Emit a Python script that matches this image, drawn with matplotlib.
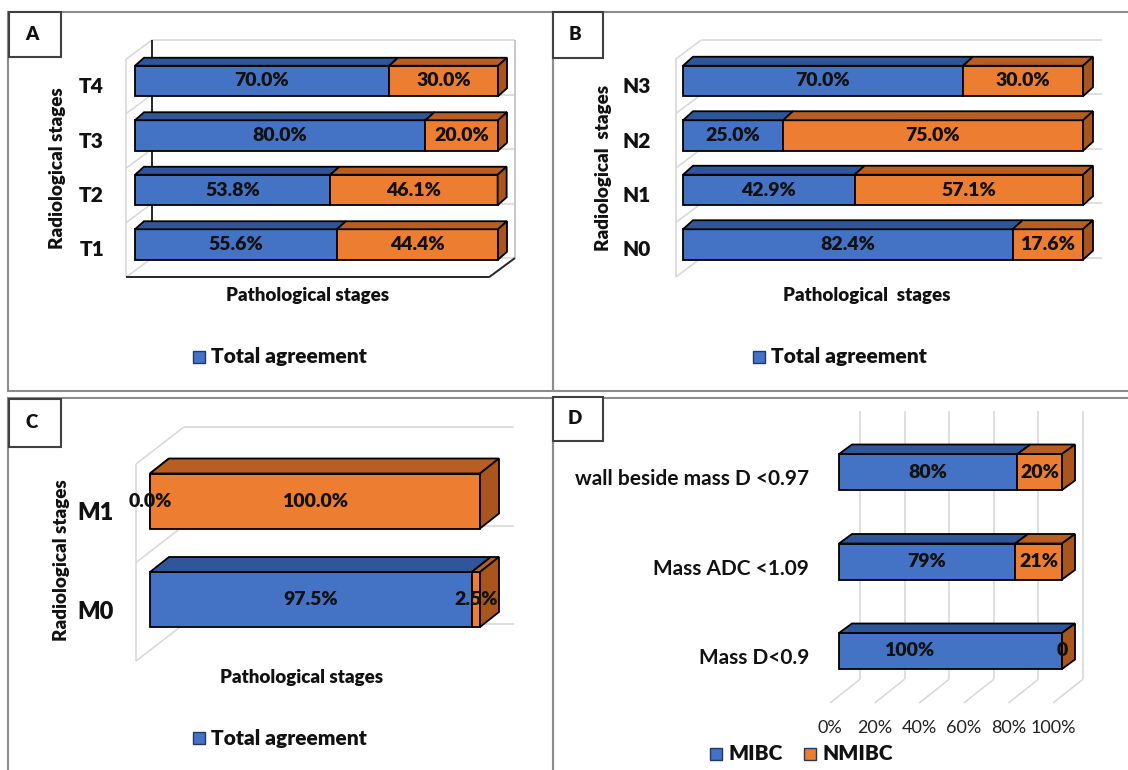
import numpy as np
import matplotlib
matplotlib.use("Agg")
import matplotlib.pyplot as plt
from matplotlib.patches import Polygon, Rectangle

# ---------------- data ----------------
t_stages = ["T1", "T2", "T3", "T4"]
t_agree = [55.6, 53.8, 80.0, 70.0]
t_other = [44.4, 46.1, 20.0, 30.0]

n_stages = ["N0", "N1", "N2", "N3"]
n_agree = [82.4, 42.9, 25.0, 70.0]
n_other = [17.6, 57.1, 75.0, 30.0]

m_stages = ["M0", "M1"]
m_agree = [97.5, 0.0]
m_other = [2.5, 100.0]

d_params = ["Mass D<0.9", "Mass ADC <1.09", "wall beside mass D <0.97"]
d_mibc = [100, 79, 80]
d_nmibc = [0, 21, 20]
d_ticks = [0, 20, 40, 60, 80, 100]

# ---------------- style ----------------
W, H = 1128, 770
plt.rcParams["font.family"] = ["Lato", "DejaVu Sans"]
BLUE, BLUE_TOP = "#4472C4", "#30569A"
ORANGE, ORANGE_TOP, ORANGE_SIDE = "#ED7D31", "#B95E22", "#A8561D"
WALL = "#D9D9D9"
TXT = "#111111"
HEAVY = "heavy"
EDGE_LW = 1.3

fig = plt.figure(figsize=(W / 100, H / 100), dpi=100)


def fx(x):
    return x / W


def fy(y):
    return 1 - y / H


def make_axes(x0, x100, yc_bottom, spacing, n):
    top = yc_bottom - spacing * (n - 1) - spacing / 2
    bot = yc_bottom + spacing / 2
    ax = fig.add_axes([fx(x0), fy(bot), (x100 - x0) / W, (bot - top) / H])
    ax.set_xlim(0, 100)
    ax.set_ylim(-0.5, n - 0.5)
    ax.axis("off")
    ux = 100 / (x100 - x0)
    uy = 1 / spacing
    return ax, ux, uy


def draw_bars(ax, ux, uy, series, fronts, tops, side, bar_h, depth, fmts,
              fs=14, label_shift=None):
    n = len(series[0])
    ddx, ddy = depth[0] * ux, depth[1] * uy
    y = np.arange(n)
    left = np.zeros(n)
    for k, vals in enumerate(series):
        vals = np.asarray(vals, dtype=float)
        ax.barh(y, vals, left=left, height=bar_h, color=fronts[k],
                edgecolor="black", linewidth=EDGE_LW, zorder=5)
        for i in range(n):
            l, r = left[i], left[i] + vals[i]
            t = y[i] + bar_h / 2
            ax.add_patch(Polygon([(l, t), (r, t), (r + ddx, t + ddy), (l + ddx, t + ddy)],
                                 closed=True, fc=tops[k], ec="black",
                                 lw=EDGE_LW, zorder=5))
            cx = l + vals[i] / 2
            if label_shift is not None and (k, i) in label_shift:
                cx += label_shift[(k, i)]
            ax.text(cx, y[i], fmts[k](vals[i]), ha="center", va="center",
                    fontsize=fs, fontweight=HEAVY, color=TXT, zorder=10)
        left = left + vals
    for i in range(n):
        r = left[i]
        b, t = y[i] - bar_h / 2, y[i] + bar_h / 2
        ax.add_patch(Polygon([(r, b), (r + ddx, b + ddy), (r + ddx, t + ddy), (r, t)],
                             closed=True, fc=side, ec="black", lw=EDGE_LW,
                             zorder=5))
    for a in ax.patches:
        a.set_clip_on(False)


def line(ax, p, q, color=WALL, lw=1.2, z=1):
    ax.plot([p[0], q[0]], [p[1], q[1]], color=color, lw=lw, zorder=z,
            clip_on=False, solid_capstyle="butt")


def wall_box(ax, ux, uy, n, front, back, left_wall=True, back_axis=False,
             right_wall=False, floor=False, xgrid=None):
    def P(x, yy, off):
        return (x + off[0] * ux, yy + off[1] * uy)
    bounds = np.arange(n + 1) - 0.5
    if left_wall:
        line(ax, P(0, -0.5, front), P(0, n - 0.5, front))
        for b in bounds:
            line(ax, P(0, b, front), P(0, b, back))
        for b in bounds:
            line(ax, P(0, b, back), P(100, b, back))
    if back_axis:
        line(ax, P(0, -0.5, back), P(0, n - 0.5, back), color="#262626", lw=1.4, z=2)
    if right_wall:
        line(ax, P(100, -0.5, back), P(100, n - 0.5, back), color="#BFBFBF")
    if floor:
        line(ax, P(0, -0.5, front), P(100, -0.5, front), color="#262626", lw=1.4, z=2)
        line(ax, P(100, -0.5, front), P(100, -0.5, back), color="#262626", lw=1.4, z=2)
    if xgrid is not None:
        for xv in xgrid:
            line(ax, P(xv, -0.5, back), P(xv, n - 0.5, back))
            line(ax, P(xv, -0.5, back), P(xv, -0.5, front))


def cat_labels(ax, ux, uy, labels, front, pad, fs=15, weight=HEAVY):
    for i, lab in enumerate(labels):
        ax.text(front[0] * ux - pad * ux, i + front[1] * uy, lab, ha="right",
                va="center", fontsize=fs, fontweight=weight, color=TXT)


def legend_item(x, y, color, text, fs=15):
    s = 12
    fig.add_artist(Rectangle((fx(x), fy(y + s / 2)), s / W, s / H,
                             transform=fig.transFigure, fc=color,
                             ec="#1F3864", lw=1.0))
    fig.text(fx(x + s + 6), fy(y), text, ha="left", va="center",
             fontsize=fs, fontweight=HEAVY, color=TXT)


def axis_titles(vx, vy, vtext, hx, hy, htext):
    fig.text(fx(vx), fy(vy), vtext, rotation=90, ha="center", va="center",
             fontsize=13.5, fontweight=HEAVY, color=TXT)
    fig.text(fx(hx), fy(hy), htext, ha="center", va="center",
             fontsize=13.5, fontweight=HEAVY, color=TXT)


def frame(x0, y0, x1, y1, color="#8C8C8C", lw=1.5):
    fig.add_artist(Rectangle((fx(x0), fy(y1)), (x1 - x0) / W, (y1 - y0) / H,
                             transform=fig.transFigure, fill=False,
                             ec=color, lw=lw))


def letter_box(x0, y0, x1, y1, letter):
    fig.add_artist(Rectangle((fx(x0), fy(y1)), (x1 - x0) / W, (y1 - y0) / H,
                             transform=fig.transFigure, fc="white",
                             ec="#404040", lw=1.5, zorder=20))
    fig.text(fx((x0 + x1) / 2 - 3), fy((y0 + y1) / 2), letter, ha="center",
             va="center", fontsize=13.5, fontweight=HEAVY, color=TXT,
             zorder=21)


def pct1(v):
    return f"{v:.1f}%"


def pct0(v):
    return f"{v:.0f}%" if v > 0 else "0"


# ---------------- panel frames ----------------
frame(8, 12, 553, 391)
frame(553, 12, 1140, 391)
frame(8, 398, 553, 790)
frame(553, 398, 1140, 790)

# ---------------- panel A ----------------
axA, uxA, uyA = make_axes(135, 498, 244.5, 54.5, 4)
frontA, backA = (-9, -5.5), (17, 13.75)
wall_box(axA, uxA, uyA, 4, frontA, backA, back_axis=True, right_wall=True, floor=True)
draw_bars(axA, uxA, uyA, [t_agree, t_other], [BLUE, ORANGE], [BLUE_TOP, ORANGE_TOP],
          ORANGE_SIDE, 30.5 / 54.5, (9, 8), [pct1, pct1])
cat_labels(axA, uxA, uyA, t_stages, frontA, 22)
axis_titles(58, 168, "Radiological stages", 308, 296, "Pathological stages")
legend_item(193, 357, BLUE, "Total agreement")
letter_box(9, 12, 61, 57, "A")

# ---------------- panel B ----------------
axB, uxB, uyB = make_axes(683, 1083, 244.5, 54.5, 4)
frontB, backB = (-7.5, -5.5), (18.5, 14)
wall_box(axB, uxB, uyB, 4, frontB, backB)
draw_bars(axB, uxB, uyB, [n_agree, n_other], [BLUE, ORANGE], [BLUE_TOP, ORANGE_TOP],
          ORANGE_SIDE, 30.5 / 54.5, (10, 9), [pct1, pct1])
cat_labels(axB, uxB, uyB, n_stages, frontB, 25)
axis_titles(603, 168, "Radiological  stages", 867, 296, "Pathological  stages")
legend_item(753, 357, BLUE, "Total agreement")
letter_box(553, 12, 603, 58, "B")

# ---------------- panel C ----------------
axC, uxC, uyC = make_axes(150, 480, 599.5, 98.5, 2)
frontC, backC = (-14, -12.25), (34, 24.75)
wall_box(axC, uxC, uyC, 2, frontC, backC)
draw_bars(axC, uxC, uyC, [m_agree, m_other], [BLUE, ORANGE], [BLUE_TOP, ORANGE_TOP],
          ORANGE_SIDE, 55 / 98.5, (19, 15), [pct1, pct1])
cat_labels(axC, uxC, uyC, m_stages, frontC, 22, fs=17)
axis_titles(61, 560, "Radiological stages", 302, 677, "Pathological stages")
legend_item(193, 738, BLUE, "Total agreement")
letter_box(9, 399, 61, 447, "C")

# ---------------- panel D ----------------
axD, uxD, uyD = make_axes(839, 1062, 651, 89.5, 3)
frontD, backD = (-9, -7.25), (21, 16.5)
wall_box(axD, uxD, uyD, 3, frontD, backD, left_wall=False, xgrid=d_ticks)
draw_bars(axD, uxD, uyD, [d_mibc, d_nmibc], [BLUE, ORANGE], [BLUE_TOP, ORANGE_TOP],
          ORANGE_SIDE, 36 / 89.5, (13, 9.5), [pct0, pct0],
          label_shift={(0, 0): -18.5})
cat_labels(axD, uxD, uyD, d_params, frontD, 21, fs=15, weight="bold")
for t in d_ticks:
    axD.text(t + frontD[0] * uxD, -0.5 + (frontD[1] - 25) * uyD, f"{t}%",
             ha="center", va="center", fontsize=13, color="#222222")
legend_item(710, 754, BLUE, "MIBC")
legend_item(804, 754, ORANGE, "NMIBC")
letter_box(553, 397, 603, 441, "D")

fig.savefig("out.png", dpi=100, facecolor="white")
